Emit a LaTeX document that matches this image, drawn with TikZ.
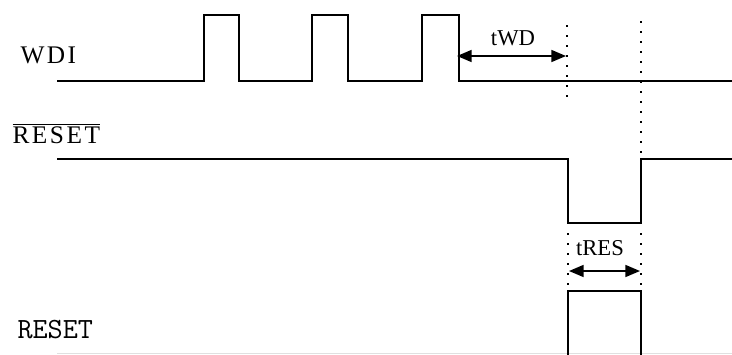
\documentclass[tikz,border=0pt]{standalone}
\usepackage{fontspec}
\setmainfont{Liberation Serif}
\usetikzlibrary{arrows.meta}

\tikzset{every picture/.style={line width=0.75pt}}
\tikzset{
	wave/.style={line width=1.5pt, line join=miter},
	guide/.style={line width=1.1pt, dash pattern=on 1.2pt off 6.3pt},
	timing/.style={line width=1.2pt, {Triangle[length=11pt,width=9pt]}-{Triangle[length=11pt,width=9pt]}},
	sig/.style={inner sep=0pt, anchor=base west, font=\fontsize{19}{22}\selectfont\addfontfeatures{LetterSpace=10}},
	lbl/.style={inner sep=0pt, anchor=base, font=\fontsize{17}{20}\selectfont},
}

\begin{document}
\begin{tikzpicture}[x=0.75pt,y=0.75pt,yscale=-1,xscale=1]
		\useasboundingbox (0,0) rectangle (732,354);
		
		%Signal: WDI 
		\draw [wave] (57,80.5) -- (204,80.5) -- (204,15) -- (239,15) -- (239,80.5) -- (312,80.5) -- (312,15) -- (348,15) -- (348,80.5) -- (422,80.5) -- (422,15) -- (459,15) -- (459,80.5) -- (732,80.5) ;
		%Signal: RESET bar 
		\draw [wave] (57,159) -- (568,159) -- (568,223) -- (641,223) -- (641,159) -- (732,159) ;
		%Signal: RESET 
		\draw [line width=1pt, black!12] (57,353.5) -- (732,353.5) ;
		\draw [wave] (568,356) -- (568,291) -- (641,291) -- (641,356) ;
		
		%Guides 
		\draw [guide] (567,25) -- (567,98) ;
		\draw [guide] (641,21) -- (641,154) ;
		\draw [guide] (568,233) -- (568,286) ;
		\draw [guide] (641,233) -- (641,286) ;
		
		%Timing arrows 
		\coordinate (wdL) at (457,56) ;
		\coordinate (wdR) at (566,56) ;
		\coordinate (resL) at (569,271) ;
		\coordinate (resR) at (640,271) ;
		\draw [timing] (wdL) -- (wdR) ;
		\draw [timing] (resL) -- (resR) ;
		
		\node [sig] (wdi) at (20,63) {WDI};
		\node [sig] (rstbar) at (12,143) {$\overline{\mbox{RESET}}$};
		\node [inner sep=0pt, anchor=base west, font=\ttfamily\fontsize{22}{25}\selectfont\addfontfeatures{LetterSpace=6}] (rst) at (17,338) {RESET};
		\node [lbl] (twd) at (513,45) {tWD};
		\node [lbl] (tres) at (600,255) {tRES};
		
\end{tikzpicture}
\end{document}
